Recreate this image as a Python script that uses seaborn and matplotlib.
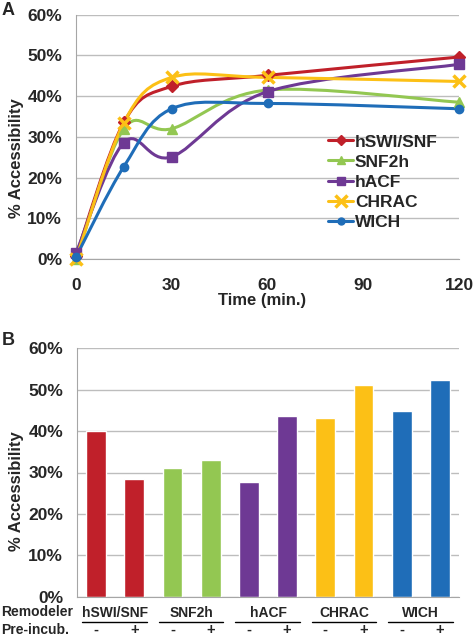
import numpy as np
import pandas as pd
import matplotlib
matplotlib.use("Agg")
import matplotlib.pyplot as plt
import seaborn as sns
from matplotlib.path import Path
from matplotlib.patches import PathPatch
from matplotlib.lines import Line2D
from matplotlib.ticker import PercentFormatter, MultipleLocator

# ---- data (panel A: time course) ----
times = [0, 15, 30, 60, 120]
remodelers = ["hSWI/SNF", "SNF2h", "hACF", "CHRAC", "WICH"]
acc_hswi = [0.8, 33.6, 42.4, 45.1, 49.6]
acc_snf2h = [0.0, 32.0, 32.0, 41.5, 38.5]
acc_hacf = [1.5, 28.6, 25.1, 41.1, 47.8]
acc_chrac = [0.0, 33.5, 44.6, 44.6, 43.6]
acc_wich = [0.5, 22.7, 36.9, 38.2, 36.9]

# ---- data (panel B: pre-incubation) ----
preincub = ["-", "+"]
acc_minus = [40.0, 31.1, 27.6, 43.2, 44.9]
acc_plus = [28.4, 33.0, 43.7, 51.1, 52.3]

colors = ["#C0202A", "#93C752", "#6E3994", "#FCC016", "#1F6DB8"]
markers = ["D", "^", "s", "x", "o"]
msizes = [6, 7, 7, 9, 6]

sns.set_style("white")
plt.rcParams["font.family"] = ["Liberation Sans", "DejaVu Sans"]
plt.rcParams["font.weight"] = "bold"

fig = plt.figure(figsize=(4.73, 6.36), dpi=100)
W, H = 473, 636


def px_axes(l, t, r, b):
    return fig.add_axes([l / W, 1 - b / H, (r - l) / W, (b - t) / H])


def smooth_path(xs, ys, t=1 / 6):
    # Excel-style smoothed line: cubic Bezier through the data points
    pts = list(zip(xs, ys))
    n = len(pts)
    verts = [pts[0]]
    codes = [Path.MOVETO]
    for i in range(n - 1):
        p0 = pts[i - 1] if i > 0 else pts[i]
        p1, p2 = pts[i], pts[i + 1]
        p3 = pts[i + 2] if i + 2 < n else pts[i + 1]
        c1 = (p1[0] + (p2[0] - p0[0]) * t, p1[1] + (p2[1] - p0[1]) * t)
        c2 = (p2[0] - (p3[0] - p1[0]) * t, p2[1] - (p3[1] - p1[1]) * t)
        verts += [c1, c2, p2]
        codes += [Path.CURVE4] * 3
    return Path(verts, codes)


grid_c = "#BDBDBD"
spine_c = "#A6A6A6"
tick_fs = 12.5

# ---------- Panel A ----------
axA = px_axes(76, 14.7, 459, 259)
series = [acc_hswi, acc_snf2h, acc_hacf, acc_chrac, acc_wich]
handles = []
for name, vals, c, m, ms in zip(remodelers, series, colors, markers, msizes):
    axA.add_patch(PathPatch(smooth_path(times, vals), facecolor="none",
                            edgecolor=c, lw=2.2, zorder=3, clip_on=False))
    mew = 2.5 if m == "x" else 1
    axA.plot(times, vals, ls="none", marker=m, ms=ms, color=c, mew=mew,
             zorder=4, clip_on=False)
    handles.append(Line2D([], [], color=c, lw=2.2, marker=m, ms=ms - 1, mew=mew))

axA.set_xlim(0, 120)
axA.set_ylim(0, 60)
axA.xaxis.set_major_locator(MultipleLocator(30))
axA.xaxis.set_minor_locator(MultipleLocator(15))
axA.yaxis.set_major_locator(MultipleLocator(10))
axA.yaxis.set_major_formatter(PercentFormatter(decimals=0))
axA.grid(axis="y", color=grid_c, lw=1)
axA.set_axisbelow(True)
for s in ["top", "right"]:
    axA.spines[s].set_visible(False)
for s in ["left", "bottom"]:
    axA.spines[s].set_color(spine_c)
axA.tick_params(axis="x", which="both", direction="in", length=4, color=spine_c,
                pad=14, labelsize=tick_fs)
axA.tick_params(axis="y", length=0, pad=10, labelsize=tick_fs)
axA.set_xlabel("Time (min.)", fontsize=12, fontweight="bold")
axA.xaxis.set_label_coords(0.486, -0.139)
axA.set_ylabel("% Accessibility", fontsize=12, fontweight="bold")
axA.yaxis.set_label_coords(-0.136, 0.414)
leg = axA.legend(handles, remodelers, loc="upper left", bbox_to_anchor=(0.658, 0.51),
                 frameon=False, fontsize=12.5, handlelength=1.45, handletextpad=0.1,
                 labelspacing=0.28, borderpad=0, borderaxespad=0)
for t in leg.get_texts():
    t.set_fontweight("bold")

# ---------- Panel B ----------
axB = px_axes(77, 348.3, 459, 596.7)
rows = []
for g, name in enumerate(remodelers):
    rows.append({"cond": f"{name} -", "acc": acc_minus[g], "grp": name})
    rows.append({"cond": f"{name} +", "acc": acc_plus[g], "grp": name})
dfB = pd.DataFrame(rows)
sns.barplot(data=dfB, x="cond", y="acc", hue="grp", palette=colors, width=0.52,
            dodge=False, legend=False, saturation=1, ax=axB)
axB.set_xlim(-0.5, 9.5)
axB.set_ylim(0, 60)
axB.yaxis.set_major_locator(MultipleLocator(10))
axB.yaxis.set_major_formatter(PercentFormatter(decimals=0))
axB.grid(axis="y", color=grid_c, lw=1)
axB.set_axisbelow(True)
for s in ["top", "right"]:
    axB.spines[s].set_visible(False)
for s in ["left", "bottom"]:
    axB.spines[s].set_color(spine_c)
axB.set_xticks([])
axB.set_xlabel("")
axB.tick_params(axis="y", length=0, pad=10, labelsize=tick_fs)
axB.set_ylabel("% Accessibility", fontsize=12, fontweight="bold")
axB.yaxis.set_label_coords(-0.139, 0.425)

trB = axB.get_xaxis_transform()
for g, name in enumerate(remodelers):
    cx = 2 * g + 0.5
    axB.text(cx, -0.064, name, transform=trB, ha="center", va="center",
             fontsize=10, fontweight="bold")
    axB.plot([cx - 0.86, cx + 0.83], [-0.102, -0.102], transform=trB,
             color="black", lw=1, clip_on=False)
    for k, sign in enumerate(preincub):
        axB.text(2 * g + k, -0.134, sign, transform=trB, ha="center", va="center",
                 fontsize=10.5, fontweight="bold")

fig.text(1 / W, 1 - 612.5 / H, "Remodeler", ha="left", va="center",
         fontsize=10, fontweight="bold")
fig.text(1 / W, 1 - 630 / H, "Pre-incub.", ha="left", va="center",
         fontsize=10, fontweight="bold")
fig.text(2 / W, 1 - 2 / H, "A", ha="left", va="top", fontsize=13, fontweight="bold")
fig.text(2 / W, 1 - 332 / H, "B", ha="left", va="top", fontsize=13, fontweight="bold")

fig.savefig("out.png", dpi=100)
